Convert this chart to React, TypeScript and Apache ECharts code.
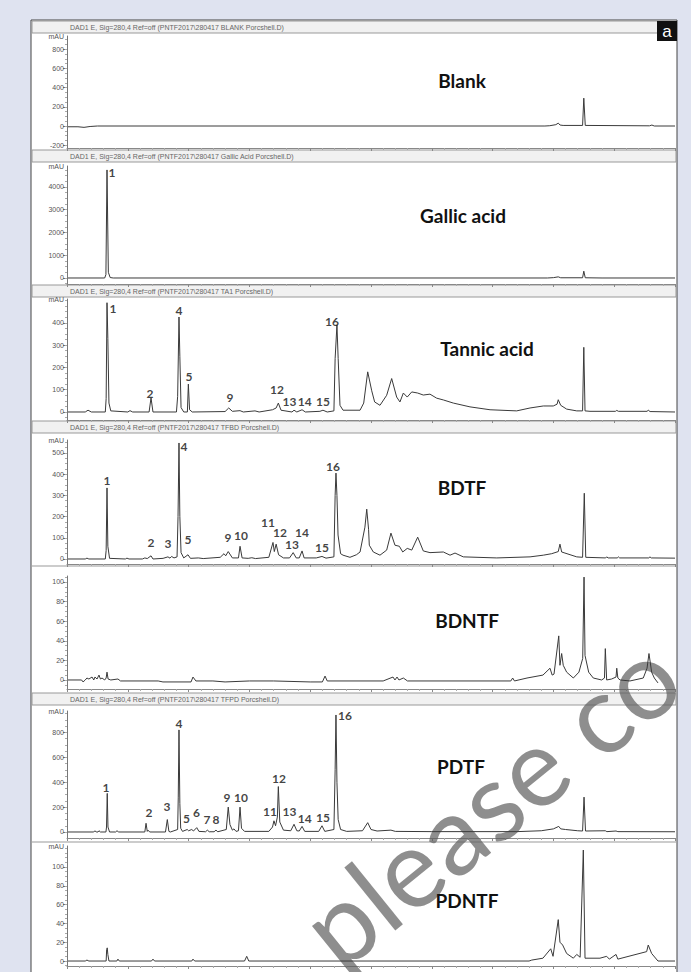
import React, { useEffect, useRef } from "react";
import * as echarts from "echarts";

// ---------------- DATA ----------------
const panelNames = ["Blank", "Gallic acid", "Tannic acid", "BDTF", "BDNTF", "PDTF", "PDNTF"];
const headerTexts = [
  "DAD1 E, Sig=280,4 Ref=off (PNTF2017\\280417 BLANK Porcshell.D)",
  "DAD1 E, Sig=280,4 Ref=off (PNTF2017\\280417 Gallic Acid Porcshell.D)",
  "DAD1 E, Sig=280,4 Ref=off (PNTF2017\\280417 TA1 Porcshell.D)",
  "DAD1 E, Sig=280,4 Ref=off (PNTF2017\\280417 TFBD Porcshell.D)",
  "",
  "DAD1 E, Sig=280,4 Ref=off (PNTF2017\\280417 TFPD Porcshell.D)",
  "",
];
const yTicks = [
  [-200, 0, 200, 400, 600, 800],
  [0, 1000, 2000, 3000, 4000],
  [0, 100, 200, 300, 400],
  [0, 100, 200, 300, 400, 500],
  [0, 20, 40, 60, 80, 100],
  [0, 200, 400, 600, 800],
  [0, 20, 40, 60, 80, 100],
];
const minorSteps = [50, 250, 25, 25, 5, 50, 5];

// retention time (min), absorbance (mAU)
const blankTrace = [[0.08,-8],[0.9,-8],[1.4,-14],[1.9,-5],[2.5,0],[39.3,0],[39.7,3],[40.2,14],[40.4,30],[40.55,10],[40.8,6],[42.4,6],[42.5,290],[42.62,6],[47.9,2],[48.1,10],[48.3,0],[50,0]];
const gallicTrace = [[0.08,0],[3.1,0],[3.2,150],[3.29,4750],[3.4,250],[3.55,20],[3.8,0],[39.5,0],[40.0,15],[40.4,50],[40.6,10],[42.4,10],[42.5,300],[42.62,10],[44,0],[50,0]];
const tannicTrace = [[0.08,0],[1.5,0],[1.73,8],[2.0,0],[3.15,0],[3.22,60],[3.29,490],[3.36,330],[3.45,40],[3.6,5],[5.0,0],[5.18,6],[5.4,0],[6.75,0],[6.91,63],[7.07,0],[9.0,0],[9.1,70],[9.21,426],[9.28,250],[9.38,20],[9.6,0],[9.9,0],[9.98,125],[10.08,10],[10.3,0],[13.0,2],[13.3,18],[13.6,3],[14.23,6],[14.5,0],[15.46,5],[15.8,0],[16.9,10],[17.2,18],[17.38,40],[17.6,8],[18.5,0],[18.67,8],[18.9,0],[19.33,10],[19.6,0],[20.8,3],[21.05,8],[21.4,0],[21.95,5],[22.05,240],[22.2,390],[22.3,240],[22.45,30],[22.7,8],[24.1,8],[24.4,40],[24.73,180],[25.06,95],[25.3,45],[25.74,30],[26.29,75],[26.7,150],[27.11,67],[27.38,45],[27.66,85],[27.98,67],[28.35,90],[28.84,85],[29.3,76],[29.85,80],[30.4,62],[30.95,54],[31.77,40],[33.14,23],[34.79,10],[36.98,5],[38.08,18],[39.17,27],[39.99,27],[40.3,35],[40.4,55],[40.6,30],[41.09,13],[41.92,5],[42.4,5],[42.5,290],[42.6,5],[43.01,3],[45.1,3],[45.21,7],[45.35,3],[47.7,3],[47.8,8],[47.95,2],[50,0]];
const bdtfTrace = [[0.08,0],[1.5,0],[1.64,4],[1.8,0],[3.15,0],[3.22,40],[3.29,335],[3.36,60],[3.5,3],[4.8,0],[4.93,4],[5.1,0],[6.2,0],[6.4,5],[6.6,2],[6.91,15],[7.07,0],[7.9,3],[8.3,10],[8.47,4],[8.6,12],[8.8,5],[9.05,10],[9.13,200],[9.21,547],[9.28,200],[9.38,30],[9.6,5],[9.95,20],[10.15,3],[10.8,5],[11.2,2],[12.6,8],[12.91,25],[13.05,15],[13.26,35],[13.6,5],[14.1,5],[14.23,60],[14.4,5],[14.9,3],[15.2,6],[15.5,2],[16.6,8],[16.94,78],[17.05,35],[17.2,70],[17.4,20],[17.8,5],[18.3,5],[18.6,30],[18.85,5],[19.1,5],[19.33,38],[19.5,5],[20.5,5],[20.97,12],[21.3,4],[21.95,10],[22.05,300],[22.12,405],[22.2,300],[22.29,113],[22.5,25],[22.7,18],[23.27,8],[23.8,20],[24.1,33],[24.5,150],[24.65,235],[24.8,140],[24.86,65],[25.19,33],[25.74,18],[26.29,42],[26.64,122],[26.97,65],[27.33,60],[27.61,33],[27.98,50],[28.35,42],[28.84,103],[29.3,38],[29.85,30],[30.95,33],[31.5,18],[31.91,28],[32.59,10],[35.34,5],[38.08,10],[39.17,18],[39.86,25],[40.4,35],[40.54,70],[40.68,33],[40.95,28],[41.92,10],[42.4,8],[42.54,310],[42.66,8],[44.3,5],[44.38,10],[44.5,5],[45.25,5],[45.34,10],[45.45,5],[47.85,5],[47.94,10],[48.05,5],[50,4]];
const bdntfTrace = [[0.08,0],[1.2,0],[1.32,-2],[1.5,0],[1.64,2],[1.8,1],[2.06,3],[2.2,0],[2.3,3],[2.47,1],[2.63,5],[2.75,1],[2.88,2],[3.1,0],[3.22,2],[3.29,8],[3.38,1],[3.6,0],[4.19,1],[4.4,-1],[7.5,-1],[7.89,-2],[10.2,-2],[10.36,3],[10.6,-1],[12,-1],[13,-2],[15,-1],[17,-1],[20,-2],[21,-2],[21.22,4],[21.4,-1],[26,-1],[26.81,3],[26.97,0],[27.14,3],[27.3,0],[27.66,2],[28,-1],[36.5,-1],[36.65,2],[36.8,-1],[37.83,2],[39.14,5],[39.72,12],[39.9,5],[40.05,6],[40.44,45],[40.54,15],[40.68,27],[40.81,15],[41.09,8],[41.64,2],[42.1,8],[42.41,22],[42.52,105],[42.6,25],[42.9,8],[43.28,2],[43.97,0],[44.2,2],[44.27,32],[44.38,0],[44.79,1],[45.15,3],[45.21,12],[45.3,2],[45.48,0],[46.3,-1],[47.39,2],[47.7,12],[47.86,27],[48.08,8],[48.3,2],[48.6,-3]];
const pdtfTrace = [[0.08,0],[2.2,0],[2.3,10],[2.4,0],[2.55,0],[2.63,10],[2.75,0],[3.2,0],[3.25,40],[3.31,310],[3.37,40],[3.5,0],[4.0,0],[4.11,10],[4.25,0],[6.4,0],[6.5,70],[6.6,5],[6.66,15],[6.8,0],[8.1,0],[8.25,100],[8.38,5],[8.5,0],[9.1,20],[9.15,280],[9.21,820],[9.28,230],[9.35,30],[9.5,5],[9.89,20],[10.0,10],[10.26,20],[10.4,8],[10.67,35],[10.85,5],[11.4,2],[11.54,15],[11.7,2],[12.1,2],[12.25,15],[12.4,2],[13.1,20],[13.26,200],[13.4,60],[13.6,15],[13.73,25],[13.9,5],[14.1,10],[14.23,200],[14.35,30],[14.6,5],[16.6,5],[16.9,40],[17.02,90],[17.15,50],[17.3,120],[17.38,365],[17.5,80],[17.8,15],[18.4,10],[18.67,62],[18.9,10],[19.1,8],[19.33,45],[19.55,5],[20.7,5],[20.97,50],[21.2,5],[21.95,20],[22.05,500],[22.12,940],[22.2,400],[22.3,100],[22.5,20],[23,5],[24.3,10],[24.73,75],[25.0,20],[25.5,8],[26.64,15],[27.0,5],[30,3],[37,3],[39,10],[40,25],[40.44,45],[40.6,25],[41.0,20],[42.0,10],[42.4,8],[42.52,280],[42.64,8],[44.27,10],[44.4,3],[45.15,8],[45.3,3],[50,2]];
const pdntfTrace = [[0.08,0],[1.5,0],[1.64,1],[1.8,0],[3.22,0],[3.26,12],[3.31,14],[3.36,7],[3.45,0],[4.1,0],[4.19,2],[4.3,0],[6.95,0],[7.07,2],[7.2,0],[10.26,0],[10.36,2],[10.5,0],[14.6,0],[14.78,5],[14.95,0],[38.0,0],[38.22,1],[39.14,3],[39.78,13],[39.97,5],[40.4,44],[40.54,20],[40.76,17],[41.09,8],[41.64,3],[41.92,7],[42.2,4],[42.46,118],[42.6,3],[43.83,3],[44.38,5],[44.6,2],[45.15,7],[45.3,2],[47.67,10],[47.8,17],[48.08,8],[48.6,0],[50,0]];

// peak number labels: [time, mAU, label]
const gallicLabels = [[3.7, 4659, "1"]];
const tannicLabels = [[3.78,466,"1"],[6.83,81,"2"],[9.21,457,"4"],[10.03,157,"5"],[13.4,63,"9"],[17.27,99,"12"],[18.3,49,"13"],[19.55,49,"14"],[21.05,45,"15"],[21.79,408,"16"]];
const bdtfLabels = [[3.29,368,"1"],[6.91,80,"2"],[8.31,75,"3"],[9.62,528,"4"],[9.95,90,"5"],[13.24,99,"9"],[14.31,113,"10"],[16.53,170,"11"],[17.52,123,"12"],[18.5,66,"13"],[19.33,123,"14"],[20.97,52,"15"],[21.88,434,"16"]];
const pdtfLabels = [[3.21,361,"1"],[6.74,153,"2"],[8.22,201,"3"],[9.21,875,"4"],[9.82,112,"5"],[10.65,153,"6"],[11.51,104,"7"],[12.25,104,"8"],[13.16,281,"9"],[14.31,281,"10"],[16.69,161,"11"],[17.43,426,"12"],[18.3,161,"13"],[19.55,112,"14"],[21.05,120,"15"],[22.86,932,"16"]];

const traces = [blankTrace, gallicTrace, tannicTrace, bdtfTrace, bdntfTrace, pdtfTrace, pdntfTrace];
const peakLabels: any[][] = [[], gallicLabels, tannicLabels, bdtfLabels, [], pdtfLabels, []];

// ---------------- LAYOUT ----------------
const layout = [
  { top: 36, bottom: 148, min: -229, max: 937.5, header: 21, title: [462, 80] },
  { top: 166, bottom: 284, min: -264, max: 4923, header: 150, title: [463, 215] },
  { top: 299, bottom: 420, min: -35.9, max: 506.7, header: 285, title: [487, 348] },
  { top: 440, bottom: 564, min: -23.6, max: 561, header: 421, title: [462, 487] },
  { top: 576, bottom: 689, min: -9.2, max: 106.1, header: 566, title: [467, 620] },
  { top: 711, bottom: 838, min: -48.2, max: 971.9, header: 693, title: [461, 766] },
  { top: 846, bottom: 966, min: -5.3, max: 122.3, header: 842, title: [467, 900] },
];
const GL = 67, GW = 608;
const AX = "#777";
const tickFont = "Liberation Sans, Arial, sans-serif";

function minorValues(i: number) {
  const out: number[] = [];
  const s = minorSteps[i];
  const l = layout[i];
  for (let v = Math.ceil(l.min / s) * s; v <= l.max; v += s) out.push(v);
  return out;
}

export default function App() {
  const ref = useRef<HTMLDivElement>(null);
  useEffect(() => {
    if (!ref.current) return;
    const chart = echarts.init(ref.current, null, { renderer: "svg" });
    const grid: any[] = [];
    const xAxis: any[] = [];
    const yAxis: any[] = [];
    const series: any[] = [];
    const graphic: any[] = [];

    graphic.push({ type: "rect", z: -10, shape: { x: 31, y: 20, width: 646, height: 970 }, style: { fill: "#fff", stroke: "#444", lineWidth: 1 } });

    layout.forEach((l, i) => {
      grid.push({ left: GL, width: GW, top: l.top, height: l.bottom - l.top });
      xAxis.push({
        type: "value", gridIndex: i, min: 0, max: 50, interval: 5,
        axisLine: { show: true, onZero: false, lineStyle: { color: "#888", width: 1 } },
        axisTick: { show: true, length: 3, lineStyle: { color: "#888" } },
        minorTick: { show: true, splitNumber: 5, length: 2, lineStyle: { color: "#aaa" } },
        axisLabel: { show: false }, splitLine: { show: false },
      });
      const mx = l.max;
      yAxis.push({
        type: "value", gridIndex: i, min: l.min, max: l.max, position: "left",
        axisLine: { show: true, lineStyle: { color: AX, width: 1 } },
        axisTick: { show: true, length: 4, customValues: yTicks[i], lineStyle: { color: AX } },
        axisLabel: {
          show: true, customValues: [...yTicks[i], mx], fontSize: 7, color: "#555", margin: 3,
          fontFamily: tickFont,
          formatter: (v: number) => (Math.abs(v - mx) < 1e-6 ? "mAU" : String(v)),
        },
        splitLine: { show: false },
      });
      yAxis.push({
        type: "value", gridIndex: i, min: l.min, max: l.max, position: "left", offset: 0,
        axisLine: { show: false },
        axisTick: { show: true, length: 2, customValues: minorValues(i), lineStyle: { color: "#aaa" } },
        axisLabel: { show: false }, splitLine: { show: false },
      });
      series.push({
        type: "line", xAxisIndex: i, yAxisIndex: 2 * i, data: traces[i], symbol: "none", showSymbol: false,
        lineStyle: { color: "#3a3a3a", width: 1 }, z: 3, silent: true,
      });
      if (peakLabels[i].length) {
        series.push({
          type: "scatter", xAxisIndex: i, yAxisIndex: 2 * i, data: peakLabels[i], symbolSize: 1,
          itemStyle: { color: "rgba(0,0,0,0)" }, z: 6, silent: true,
          label: {
            show: true, position: "inside", formatter: (p: any) => p.data[2],
            fontFamily: "Lato, sans-serif", fontWeight: "bold", fontSize: 12, color: "#111",
          },
        });
      }
      if (headerTexts[i]) {
        graphic.push({ type: "rect", z: -5, shape: { x: 32, y: l.header, width: 644, height: 12 }, style: { fill: "#f1f1f1", stroke: "#999", lineWidth: 1 } });
        graphic.push({ type: "text", z: -4, x: 70, y: l.header + 6, style: { text: headerTexts[i], fontSize: 7, fill: "#666", fontFamily: tickFont, verticalAlign: "middle" } });
      } else {
        graphic.push({ type: "line", z: -5, shape: { x1: 32, y1: l.header, x2: 676, y2: l.header }, style: { stroke: "#999", lineWidth: 1 } });
      }
      graphic.push({
        type: "text", z: 20, x: l.title[0], y: l.title[1],
        style: { text: panelNames[i], fontSize: 19, fontWeight: "bold", fill: "#111", fontFamily: "Lato, sans-serif", align: "center", verticalAlign: "middle" },
      });
    });

    graphic.push({ type: "rect", z: 20, shape: { x: 657, y: 21, width: 20, height: 20 }, style: { fill: "#111" } });
    graphic.push({ type: "text", z: 21, x: 667, y: 31, style: { text: "a", fontSize: 17, fill: "#fff", fontFamily: tickFont, align: "center", verticalAlign: "middle" } });
    graphic.push({
      type: "text", z: 1, x: 488, y: 800, rotation: (39 * Math.PI) / 180,
      style: { text: "please co", fontSize: 110, fill: "#5e5e5e", opacity: 0.7, fontFamily: "Lato, sans-serif", align: "center", verticalAlign: "middle" },
    });

    chart.setOption({
      animation: false,
      backgroundColor: "#dfe3f0",
      grid, xAxis, yAxis, series, graphic,
    });
    return () => chart.dispose();
  }, []);
  return <div ref={ref} style={{ position: "absolute", left: 0, top: 0, width: 691, height: 972 }} />;
}
